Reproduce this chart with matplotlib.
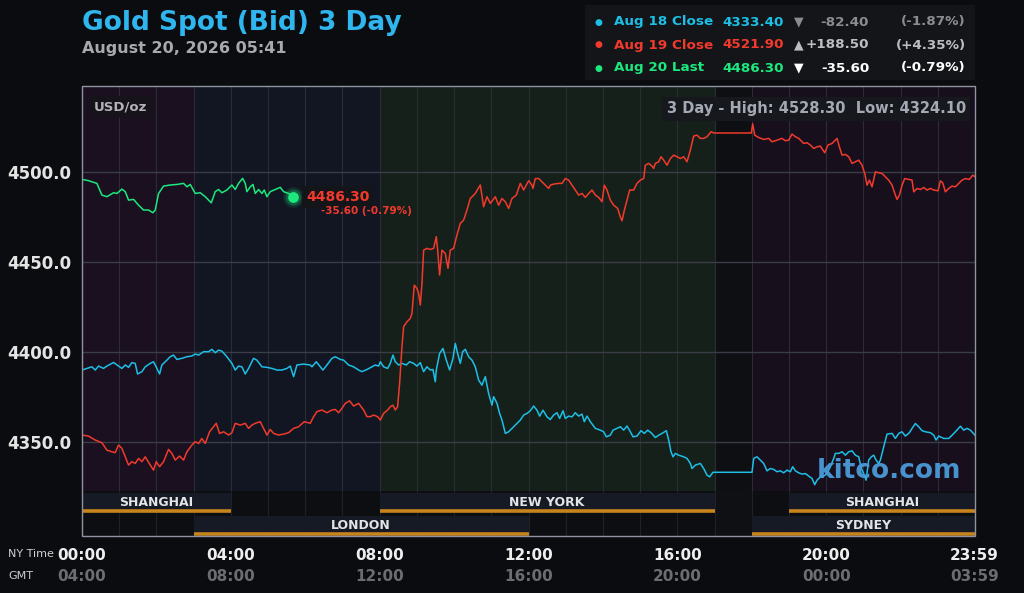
import numpy as np
import matplotlib
matplotlib.use("Agg")
import matplotlib.pyplot as plt
from matplotlib.patches import Rectangle

# ---- data (NY time in hours, price USD/oz) ----
aug18_t = [0.0, 0.131, 0.266, 0.355, 0.445, 0.579, 0.669, 0.848, 0.982, 1.072, 1.162, 1.251, 1.34, 1.43,
           1.493, 1.61, 1.699, 1.834, 1.923, 2.013, 2.085, 2.147, 2.282, 2.371, 2.461, 2.55, 2.685, 2.82,
           2.954, 3.043, 3.133, 3.267, 3.402, 3.491, 3.581, 3.67, 3.76, 3.894, 4.029, 4.118, 4.208, 4.298,
           4.387, 4.477, 4.611, 4.70, 4.835, 4.97, 5.104, 5.238, 5.373, 5.507, 5.597, 5.687, 5.776, 5.955,
           6.135, 6.18, 6.296, 6.404, 6.475, 6.583, 6.717, 6.807, 6.941, 7.031, 7.165, 7.3, 7.434, 7.524,
           7.658, 7.793, 7.882, 7.972, 8.017, 8.106, 8.214, 8.285, 8.357, 8.42, 8.509, 8.599, 8.715, 8.805,
           8.913, 9.002, 9.092, 9.181, 9.271, 9.361, 9.432, 9.495, 9.522, 9.611, 9.701, 9.791, 9.88, 9.97,
           10.033, 10.095, 10.167, 10.23, 10.301, 10.391, 10.48, 10.57, 10.66, 10.749, 10.839, 10.928,
           11.018, 11.063, 11.153, 11.224, 11.287, 11.377, 11.466, 11.6, 11.69, 11.78, 11.87, 11.959,
           12.049, 12.138, 12.228, 12.3, 12.389, 12.497, 12.586, 12.676, 12.766, 12.837, 12.927, 12.99,
           13.079, 13.169, 13.258, 13.348, 13.438, 13.5, 13.572, 13.662, 13.796, 13.931, 14.02, 14.092,
           14.199, 14.271, 14.379, 14.468, 14.558, 14.647, 14.737, 14.809, 14.916, 15.024, 15.113, 15.203,
           15.293, 15.409, 15.499, 15.588, 15.705, 15.767, 15.83, 15.884, 15.947, 16.036, 16.171, 16.26,
           16.35, 16.394, 16.484, 16.619, 16.708, 16.798, 16.869, 16.959, 18.007, 18.052, 18.142, 18.231,
           18.321, 18.41, 18.5, 18.59, 18.679, 18.769, 18.858, 18.948, 19.038, 19.1, 19.172, 19.262,
           19.351, 19.441, 19.53, 19.62, 19.692, 19.754, 19.844, 19.934, 20.023, 20.113, 20.203, 20.247,
           20.337, 20.427, 20.516, 20.606, 20.695, 20.785, 20.875, 20.946, 21.009, 21.072, 21.143, 21.215,
           21.278, 21.34, 21.412, 21.457, 21.547, 21.636, 21.771, 21.86, 21.95, 22.039, 22.129, 22.237,
           22.308, 22.398, 22.487, 22.577, 22.667, 22.801, 22.891, 22.953, 23.025, 23.159, 23.294, 23.384,
           23.473, 23.608, 23.697, 23.787, 23.876, 24.0]
aug18_v = [4390.2, 4391.1, 4392.0, 4390.2, 4392.4, 4391.1, 4392.4, 4394.4, 4392.4, 4391.1, 4393.0, 4391.7,
           4394.3, 4393.9, 4388.0, 4389.3, 4392.0, 4393.9, 4394.8, 4391.1, 4388.0, 4393.0, 4395.7, 4397.6,
           4398.5, 4396.1, 4396.7, 4397.6, 4398.0, 4399.1, 4398.5, 4400.4, 4400.4, 4401.7, 4399.8, 4401.3,
           4400.7, 4397.6, 4393.9, 4390.2, 4392.4, 4392.0, 4388.0, 4391.1, 4396.7, 4395.7, 4392.0, 4391.7,
           4391.1, 4390.2, 4390.2, 4391.1, 4392.4, 4386.5, 4393.0, 4393.5, 4393.0, 4392.0, 4394.8, 4392.0,
           4390.2, 4393.0, 4396.7, 4397.6, 4396.1, 4395.7, 4393.0, 4392.0, 4390.2, 4389.3, 4390.5, 4392.0,
           4393.0, 4392.4, 4394.8, 4392.0, 4391.1, 4393.9, 4398.5, 4394.8, 4393.0, 4393.9, 4393.0, 4394.8,
           4393.9, 4392.4, 4394.3, 4389.3, 4392.0, 4390.2, 4390.5, 4383.7, 4390.2, 4399.4, 4402.2, 4395.7,
           4390.2, 4396.7, 4405.0, 4399.4, 4393.9, 4400.4, 4401.7, 4397.6, 4395.7, 4392.0, 4384.6, 4381.8,
           4386.5, 4377.2, 4370.7, 4375.4, 4371.7, 4366.1, 4362.4, 4355.0, 4355.9, 4358.7, 4360.6, 4362.4,
           4365.2, 4366.1, 4367.6, 4370.2, 4367.9, 4364.6, 4367.9, 4364.2, 4362.7, 4365.2, 4366.5, 4363.3,
           4367.6, 4363.3, 4364.6, 4364.2, 4366.5, 4364.6, 4365.7, 4361.5, 4364.6, 4361.5, 4357.8, 4356.8,
           4355.9, 4353.1, 4354.0, 4356.8, 4357.8, 4358.7, 4356.8, 4359.1, 4355.9, 4353.1, 4353.5, 4356.5,
           4355.0, 4356.8, 4355.4, 4352.7, 4354.0, 4355.0, 4356.5, 4351.3, 4344.8, 4342.0, 4343.9, 4342.9,
           4342.0, 4341.1, 4338.3, 4335.5, 4337.4, 4338.3, 4335.5, 4331.8, 4330.9, 4333.4, 4333.4, 4341.1,
           4342.0, 4340.2, 4338.3, 4334.2, 4335.5, 4335.0, 4333.7, 4334.2, 4333.1, 4334.6, 4333.7, 4336.5,
           4334.2, 4333.1, 4332.4, 4332.7, 4331.3, 4330.0, 4326.5, 4329.0, 4330.9, 4331.3, 4332.7, 4336.5,
           4341.1, 4343.9, 4343.9, 4344.8, 4342.9, 4344.8, 4345.3, 4342.9, 4342.0, 4335.5, 4332.7, 4329.0,
           4340.2, 4342.0, 4342.9, 4340.2, 4338.3, 4340.2, 4347.6, 4354.6, 4355.0, 4352.2, 4355.0, 4355.9,
           4353.5, 4355.4, 4357.8, 4360.5, 4358.7, 4356.5, 4355.9, 4355.4, 4354.0, 4351.3, 4353.5, 4352.2,
           4352.2, 4354.0, 4355.9, 4359.0, 4356.8, 4357.8, 4356.8, 4354.0]

aug19_t = [0.0, 0.176, 0.355, 0.535, 0.669, 0.803, 0.893, 0.982, 1.072, 1.162, 1.251, 1.34, 1.43, 1.52,
           1.61, 1.699, 1.834, 1.923, 1.995, 2.085, 2.192, 2.326, 2.416, 2.505, 2.622, 2.73, 2.82, 2.954,
           3.043, 3.133, 3.222, 3.312, 3.429, 3.536, 3.608, 3.697, 3.805, 3.939, 4.029, 4.118, 4.253, 4.387,
           4.477, 4.566, 4.656, 4.79, 4.88, 4.97, 5.06, 5.149, 5.283, 5.418, 5.552, 5.687, 5.821, 5.973,
           6.135, 6.224, 6.314, 6.448, 6.583, 6.717, 6.807, 6.896, 6.986, 7.076, 7.192, 7.3, 7.434, 7.568,
           7.658, 7.748, 7.837, 7.945, 8.017, 8.106, 8.214, 8.285, 8.357, 8.42, 8.482, 8.536, 8.599, 8.644,
           8.733, 8.823, 8.868, 8.93, 9.002, 9.047, 9.092, 9.137, 9.181, 9.271, 9.361, 9.45, 9.522, 9.558,
           9.611, 9.674, 9.764, 9.836, 9.898, 9.988, 10.077, 10.167, 10.257, 10.346, 10.436, 10.57, 10.705,
           10.794, 10.884, 10.974, 11.108, 11.197, 11.287, 11.377, 11.466, 11.556, 11.672, 11.78, 11.87,
           12.004, 12.094, 12.12, 12.183, 12.273, 12.362, 12.452, 12.542, 12.586, 12.676, 12.81, 12.9,
           12.99, 13.079, 13.169, 13.258, 13.348, 13.438, 13.527, 13.617, 13.707, 13.796, 13.886, 13.975,
           14.038, 14.11, 14.199, 14.289, 14.397, 14.468, 14.513, 14.576, 14.647, 14.719, 14.827, 14.916,
           15.006, 15.095, 15.14, 15.23, 15.319, 15.364, 15.409, 15.499, 15.561, 15.633, 15.723, 15.812,
           15.902, 15.991, 16.081, 16.171, 16.26, 16.35, 16.439, 16.529, 16.619, 16.708, 16.798, 16.905,
           16.977, 17.989, 18.025, 18.079, 18.186, 18.321, 18.455, 18.545, 18.679, 18.814, 18.903, 18.993,
           19.082, 19.172, 19.262, 19.396, 19.486, 19.575, 19.665, 19.754, 19.844, 19.961, 20.05, 20.158,
           20.247, 20.292, 20.355, 20.427, 20.516, 20.606, 20.695, 20.785, 20.875, 20.964, 21.036, 21.099,
           21.161, 21.233, 21.323, 21.412, 21.502, 21.591, 21.681, 21.771, 21.86, 21.905, 21.968, 22.039,
           22.111, 22.219, 22.308, 22.353, 22.443, 22.532, 22.622, 22.711, 22.801, 22.891, 23.007, 23.07,
           23.133, 23.204, 23.294, 23.384, 23.473, 23.563, 23.652, 23.742, 23.85, 23.939, 24.0]
aug19_v = [4354.1, 4353.5, 4351.3, 4349.8, 4345.7, 4344.8, 4344.3, 4348.5, 4346.7, 4342.0, 4337.4, 4339.3,
           4338.3, 4341.1, 4339.3, 4342.0, 4337.4, 4334.6, 4339.3, 4336.5, 4339.3, 4346.1, 4343.9, 4340.2,
           4342.4, 4340.2, 4344.8, 4348.5, 4350.4, 4349.4, 4352.2, 4349.4, 4355.9, 4358.7, 4360.6, 4355.0,
           4355.9, 4354.1, 4355.4, 4360.6, 4359.6, 4360.6, 4357.8, 4359.6, 4360.6, 4361.5, 4357.8, 4354.1,
           4357.2, 4355.0, 4354.1, 4354.6, 4355.4, 4357.8, 4358.7, 4361.5, 4360.6, 4364.3, 4367.1, 4368.0,
           4366.5, 4368.0, 4368.3, 4366.5, 4368.9, 4371.7, 4373.1, 4370.2, 4371.7, 4368.0, 4364.3, 4364.3,
           4365.2, 4364.3, 4362.4, 4366.1, 4368.0, 4369.8, 4370.7, 4368.0, 4369.8, 4382.8, 4403.1, 4414.3,
           4417.0, 4418.9, 4421.7, 4437.4, 4435.5, 4432.8, 4426.3, 4438.3, 4456.8, 4457.8, 4457.2, 4457.8,
           4464.3, 4456.8, 4443.0, 4456.8, 4455.0, 4446.7, 4456.8, 4457.8, 4465.2, 4471.7, 4473.5, 4479.1,
           4485.5, 4488.3, 4493.0, 4480.9, 4486.5, 4482.8, 4486.5, 4481.8, 4485.5, 4483.7, 4480.0, 4485.5,
           4487.4, 4493.9, 4490.2, 4495.4, 4492.9, 4491.1, 4496.6, 4496.6, 4494.8, 4492.9, 4491.1, 4492.9,
           4493.5, 4493.9, 4493.9, 4496.6, 4495.7, 4492.9, 4490.2, 4487.4, 4488.3, 4486.1, 4488.3, 4490.2,
           4487.4, 4486.1, 4483.7, 4492.9, 4490.2, 4484.6, 4481.8, 4480.0, 4475.3, 4473.1, 4479.0, 4484.6,
           4490.2, 4490.2, 4493.9, 4495.7, 4496.6, 4504.0, 4505.0, 4503.5, 4502.2, 4505.0, 4505.9, 4508.7,
           4506.8, 4504.0, 4507.7, 4509.6, 4508.7, 4507.7, 4508.7, 4505.9, 4512.4, 4520.2, 4520.7, 4518.9,
           4518.9, 4519.8, 4522.6, 4521.9, 4521.9, 4527.0, 4520.7, 4519.4, 4518.3, 4518.9, 4517.0, 4517.9,
           4518.9, 4517.6, 4517.9, 4521.3, 4519.8, 4518.9, 4516.1, 4516.5, 4515.2, 4513.3, 4514.2, 4514.6,
           4510.9, 4515.2, 4516.1, 4517.9, 4518.9, 4514.2, 4509.6, 4510.0, 4508.7, 4505.0, 4505.9, 4506.8,
           4504.0, 4499.4, 4492.9, 4495.7, 4492.0, 4500.3, 4499.8, 4499.4, 4497.6, 4495.7, 4492.9, 4487.4,
           4485.0, 4487.4, 4492.9, 4496.6, 4496.1, 4495.7, 4489.2, 4491.1, 4490.5, 4491.6, 4490.2, 4491.1,
           4490.2, 4489.8, 4495.3, 4494.2, 4489.2, 4491.1, 4492.4, 4492.0, 4493.9, 4495.7, 4496.6, 4496.1,
           4498.5, 4497.6]

aug20_t = [0.0, 0.176, 0.40, 0.535, 0.669, 0.848, 0.938, 1.072, 1.162, 1.251, 1.386, 1.52, 1.654, 1.789,
           1.905, 1.968, 2.058, 2.192, 2.371, 2.55, 2.73, 2.82, 2.91, 3.043, 3.178, 3.312, 3.474, 3.581,
           3.67, 3.76, 3.894, 4.029, 4.118, 4.208, 4.316, 4.387, 4.432, 4.522, 4.594, 4.656, 4.746, 4.835,
           4.898, 4.97, 5.06, 5.194, 5.328, 5.418, 5.552, 5.683]
aug20_v = [4496.1, 4495.4, 4493.9, 4487.4, 4486.5, 4488.7, 4488.3, 4490.7, 4489.3, 4484.6, 4485.0, 4481.8,
           4479.1, 4479.1, 4477.6, 4479.1, 4488.3, 4492.4, 4493.0, 4493.3, 4493.9, 4492.0, 4493.3, 4488.3,
           4488.7, 4486.5, 4483.1, 4489.3, 4490.5, 4488.7, 4490.2, 4493.0, 4490.5, 4493.9, 4496.7, 4493.9,
           4489.3, 4492.0, 4493.3, 4488.3, 4490.5, 4488.3, 4490.2, 4486.5, 4489.3, 4490.5, 4491.7, 4489.3,
           4488.3, 4486.3]

legend_labels = ["Aug 18 Close", "Aug 19 Close", "Aug 20 Last"]
legend_values = ["4333.40", "4521.90", "4486.30"]
legend_arrows = ["\u25BC", "\u25B2", "\u25BC"]
legend_changes = ["-82.40", "+188.50", "-35.60"]
legend_pcts = ["(-1.87%)", "(+4.35%)", "(-0.79%)"]

zone_start = [0, 3, 8, 17, 18]
zone_end = [3, 8, 17, 18, 24]
sess_names = ["SHANGHAI", "NEW YORK", "SHANGHAI", "LONDON", "SYDNEY"]
sess_start = [0, 8, 19, 3, 18]
sess_end = [4, 17, 24, 12, 24]
sess_row = [0, 0, 0, 1, 1]

ny_ticks = [0, 4, 8, 12, 16, 20, 23.983]
ny_labels = ["00:00", "04:00", "08:00", "12:00", "16:00", "20:00", "23:59"]
gmt_labels = ["04:00", "08:00", "12:00", "16:00", "20:00", "00:00", "03:59"]

# ---- style ----
BG = "#0b0c10"
CYAN, RED, GREEN = "#1cbfe6", "#f23a2c", "#1de87e"
zone_colors = ["#1a1020", "#111622", "#16201a", "#0e0f12", "#180f1d"]
W, H = 1024, 593


def fx(px):
    return px / W


def fy(py):
    return 1 - py / H


fig = plt.figure(figsize=(10.24, 5.93), dpi=100, facecolor=BG)
L, R, T, B_data, B = 82, 975, 86, 491, 536
ax = fig.add_axes([fx(L), fy(B_data), fx(R - L), (B_data - T) / H])
sx = fig.add_axes([fx(L), fy(B), fx(R - L), (B - B_data) / H], sharex=ax)

for a in (ax, sx):
    a.set_facecolor("#0d0e12")
    for s in a.spines.values():
        s.set_visible(False)

for z0, z1, c in zip(zone_start, zone_end, zone_colors):
    ax.axvspan(z0, z1, color=c, lw=0, zorder=0)

ax.set_xlim(0, 24)
ax.set_ylim(4323, 4548)
ax.set_xticks(range(0, 25))
ax.set_yticks([4350, 4400, 4450, 4500])
ax.set_yticklabels(["%.1f" % v for v in [4350, 4400, 4450, 4500]],
                   fontsize=12, fontweight="bold", color="#e4e4e4")
ax.tick_params(axis="y", length=0, pad=8)
ax.tick_params(axis="x", length=0, labelbottom=False)
ax.grid(axis="x", color="#2a2d35", lw=0.8, zorder=1)
ax.grid(axis="y", color="#3a3d47", lw=1.0, zorder=1)

ax.plot(aug18_t, aug18_v, color=CYAN, lw=1.1, zorder=3)
ax.plot(aug19_t, aug19_v, color=RED, lw=1.1, zorder=3)
ax.plot(aug20_t, aug20_v, color=GREEN, lw=1.1, zorder=4)

# last-point marker with glow
for s, al in [(220, 0.12), (130, 0.25), (60, 1.0)]:
    ax.scatter([aug20_t[-1]], [aug20_v[-1]], s=s, color=GREEN, alpha=al, lw=0, zorder=5)
ax.annotate("4486.30", (aug20_t[-1], aug20_v[-1]), xytext=(9, 0), textcoords="offset points",
            color=RED, fontsize=10, fontweight="bold", va="center", zorder=6,
            bbox=dict(boxstyle="square,pad=0.3", fc="#141519", ec="none"))
ax.annotate("-35.60 (-0.79%)", (aug20_t[-1], aug20_v[-1]), xytext=(20, -10),
            textcoords="offset points", color=RED, fontsize=7.5, fontweight="bold",
            va="center", zorder=6)

ax.text(0.013, 0.965, "USD/oz", transform=ax.transAxes, color="#b4b4b8", fontsize=9.5,
        fontweight="bold", va="top", ha="left",
        bbox=dict(boxstyle="square,pad=0.35", fc="#17131b", ec="none"))
ax.text(0.99, 0.962, "3 Day - High: 4528.30  Low: 4324.10", transform=ax.transAxes,
        color="#a4a8b2", fontsize=10.5, fontweight="bold", va="top", ha="right",
        bbox=dict(boxstyle="square,pad=0.3", fc="#16181d", ec="none"))
ax.text(0.985, 0.05, "kitco.com", transform=ax.transAxes, color="#4b9ad8", fontsize=19,
        fontweight="bold", ha="right", va="center", alpha=0.95, zorder=6)

# session bars
sx.set_ylim(0, 2)
sx.set_yticks([])
sx.axvspan(17, 18, color="#0f1013", lw=0, zorder=0)
sx.grid(axis="x", color="#1f2128", lw=0.8, zorder=1)
sx.tick_params(axis="x", length=0, labelbottom=False)
sx.set_axisbelow(True)
for name, s0, s1, row in zip(sess_names, sess_start, sess_end, sess_row):
    ybot = 1.0 - row
    sx.add_patch(Rectangle((s0, ybot + 0.05), s1 - s0, 0.85, fc="#151a24", ec="none", zorder=2))
    sx.plot([s0, s1], [ybot + 0.1, ybot + 0.1], color="#c8841c", lw=2.6,
            solid_capstyle="butt", zorder=3)
    sx.text((s0 + s1) / 2, ybot + 0.48, name, ha="center", va="center", color="#e2e4e8",
            fontsize=9, fontweight="bold", zorder=4)

# time labels under the chart
for t, ny, g in zip(ny_ticks, ny_labels, gmt_labels):
    sx.text(t, -0.44, ny, transform=sx.get_xaxis_transform(), ha="center", va="center",
            color="#eeeeee", fontsize=11, fontweight="bold")
    sx.text(t, -0.91, g, transform=sx.get_xaxis_transform(), ha="center", va="center",
            color="#6c6d70", fontsize=11, fontweight="bold")
fig.text(fx(8), fy(554), "NY Time", color="#d0d0d0", fontsize=8, va="center")
fig.text(fx(8), fy(576), "GMT", color="#d0d0d0", fontsize=8, va="center")

# plot frame
fig.patches.append(Rectangle((fx(L), fy(B)), fx(R - L), (B - T) / H, transform=fig.transFigure,
                             fill=False, ec="#8e94a0", lw=1.0, zorder=10))

# title block
fig.text(fx(82), fy(23), "Gold Spot (Bid) 3 Day", color="#2fb6ef", fontsize=19,
         fontweight="bold", va="center", ha="left")
fig.text(fx(82), fy(48), "August 20, 2026 05:41", color="#a9a9ad", fontsize=11.5,
         fontweight="bold", va="center", ha="left")

# legend box
fig.patches.append(Rectangle((fx(585), fy(80)), fx(975 - 585), 75 / H, transform=fig.transFigure,
                             fc="#131519", ec="none", zorder=0))
row_colors = [CYAN, RED, GREEN]
chg_colors = ["#8a8c90", "#bdbec2", "#ffffff"]
for i in range(3):
    yy = fy(22 + 23 * i)
    fig.text(fx(598), yy, "\u25CF", color=row_colors[i], fontsize=6.5, ha="center", va="center")
    fig.text(fx(614), yy, legend_labels[i], color=row_colors[i], fontsize=9.7,
             fontweight="bold", va="center")
    fig.text(fx(784), yy, legend_values[i], color=row_colors[i], fontsize=9.7,
             fontweight="bold", va="center", ha="right")
    fig.text(fx(799), yy, legend_arrows[i], color=chg_colors[i], fontsize=9,
             va="center", ha="center")
    fig.text(fx(869), yy, legend_changes[i], color=chg_colors[i], fontsize=9.7,
             fontweight="bold", va="center", ha="right")
    fig.text(fx(966), yy, legend_pcts[i], color=chg_colors[i], fontsize=9.7,
             fontweight="bold", va="center", ha="right")

fig.savefig("out.png", dpi=100, facecolor=BG)
